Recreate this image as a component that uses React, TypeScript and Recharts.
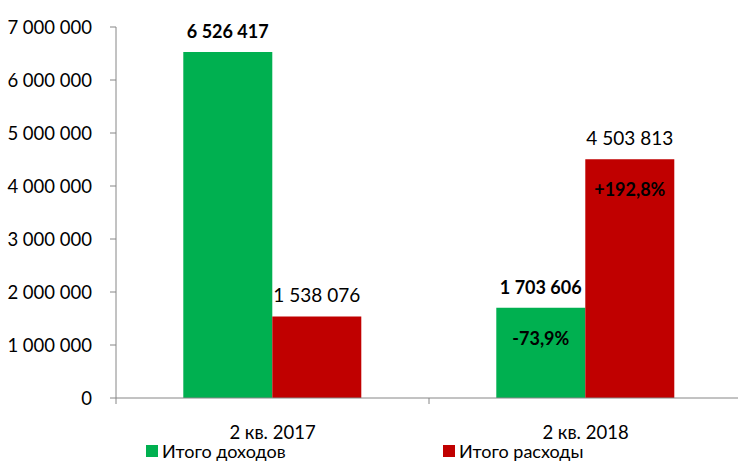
import React from "react";
import {
  BarChart,
  Bar,
  XAxis,
  YAxis,
  LabelList,
  Legend,
} from "recharts";

const periods = ["2 кв. 2017", "2 кв. 2018"];
const incomeTotals = [6526417, 1703606];
const expenseTotals = [1538076, 4503813];
const incomeChange = ["", "-73,9%"];
const expenseChange = ["", "+192,8%"];
const yTicks = [0, 1000000, 2000000, 3000000, 4000000, 5000000, 6000000, 7000000];

const data = periods.map((period, i) => ({
  period,
  income: incomeTotals[i],
  expense: expenseTotals[i],
  incomeChange: incomeChange[i],
  expenseChange: expenseChange[i],
}));

const FONT = "Lato, 'Open Sans', sans-serif";
const AXIS = "#868686";
const GREEN = "#00B050";
const RED = "#C00000";

const CHART_W = 760;
const CHART_H = 461;
const MARGIN = { top: 27, right: 18, bottom: 0, left: 0 };
const Y_AXIS_W = 116;

const fmt = (v: number) => String(Math.round(v)).replace(/\B(?=(\d{3})+(?!\d))/g, " ");

// category tick: label at centre, tick marks at the band edges
function PeriodTick(props: any) {
  const { x, y, payload, index } = props;
  const band = (CHART_W - MARGIN.right - Y_AXIS_W) / periods.length;
  const left = x - band / 2;
  const right = x + band / 2;
  return (
    <g>
      <line x1={left} y1={y - 8} x2={left} y2={y - 2} stroke={AXIS} />
      {index === periods.length - 1 && (
        <line x1={right} y1={y - 8} x2={right} y2={y - 2} stroke={AXIS} />
      )}
      <text
        x={x}
        y={y + 26}
        textAnchor="middle"
        dominantBaseline="central"
        fill="#000"
        fontSize={18.5}
        fontFamily={FONT}
      >
        {payload.value}
      </text>
    </g>
  );
}

function ChangeLabel(props: any) {
  const { x, y, width, value } = props;
  if (!value) return null;
  return (
    <text
      x={x + width / 2}
      y={y + 30}
      textAnchor="middle"
      dominantBaseline="central"
      fill="#000"
      fontSize={18}
      fontWeight="bold"
      fontFamily={FONT}
    >
      {value}
    </text>
  );
}

function LegendContent(props: any) {
  const { payload } = props;
  const spots = [146, 443];
  return (
    <div style={{ position: "relative", height: 0 }}>
      {payload.map((entry: any, i: number) => (
        <div
          key={entry.value}
          style={{
            position: "absolute",
            left: spots[i],
            top: 0,
            display: "flex",
            alignItems: "center",
            fontFamily: FONT,
            fontSize: 18,
            lineHeight: "18px",
            color: "#000",
            whiteSpace: "nowrap",
          }}
        >
          <span
            style={{
              display: "inline-block",
              width: 12,
              height: 12,
              background: entry.color,
              marginRight: 4,
            }}
          />
          {entry.value}
        </div>
      ))}
    </div>
  );
}

export default function App() {
  return (
    <div
      style={{
        position: "absolute",
        left: 0,
        top: 0,
        width: 738,
        height: 461,
        overflow: "hidden",
        background: "#fff",
      }}
    >
      <BarChart
        width={CHART_W}
        height={CHART_H}
        data={data}
        margin={MARGIN}
        barCategoryGap="21.5%"
        barGap={0}
      >
        <XAxis
          dataKey="period"
          height={63}
          axisLine={{ stroke: AXIS }}
          tickLine={false}
          tick={<PeriodTick />}
          interval={0}
        />
        <YAxis
          width={Y_AXIS_W}
          domain={[0, 7000000]}
          ticks={yTicks}
          tickFormatter={fmt}
          axisLine={{ stroke: AXIS }}
          tickLine={{ stroke: AXIS }}
          tickSize={6}
          tickMargin={18}
          tick={{ fill: "#000", fontSize: 18.5, fontFamily: FONT }}
          interval={0}
        />
        <Legend
          verticalAlign="bottom"
          content={<LegendContent />}
          wrapperStyle={{ position: "absolute", left: 0, top: 442, width: CHART_W, height: 0 }}
        />
        <Bar dataKey="income" name="Итого доходов" fill={GREEN} isAnimationActive={false}>
          <LabelList
            dataKey="income"
            position="top"
            offset={14}
            formatter={(v: any) => fmt(Number(v))}
            style={{ fill: "#000", fontSize: 18, fontWeight: "bold", fontFamily: FONT }}
          />
          <LabelList dataKey="incomeChange" content={<ChangeLabel />} />
        </Bar>
        <Bar dataKey="expense" name="Итого расходы" fill={RED} isAnimationActive={false}>
          <LabelList
            dataKey="expense"
            position="top"
            offset={14}
            formatter={(v: any) => fmt(Number(v))}
            style={{ fill: "#000", fontSize: 19, fontFamily: FONT }}
          />
          <LabelList dataKey="expenseChange" content={<ChangeLabel />} />
        </Bar>
      </BarChart>
    </div>
  );
}
